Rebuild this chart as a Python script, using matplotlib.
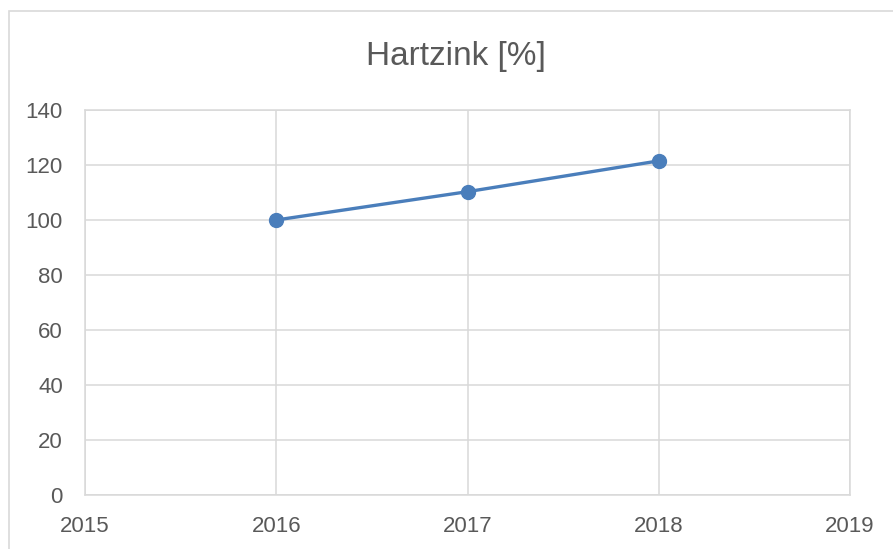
import matplotlib

matplotlib.use("Agg")
import matplotlib.pyplot as plt
from matplotlib.patches import Rectangle

# data
years = [2016, 2017, 2018]
hartzink_pct = [100, 110.3, 121.5]
x_ticks = [2015, 2016, 2017, 2018, 2019]
y_ticks = [0, 20, 40, 60, 80, 100, 120, 140]

TEXT = "#595959"
GRID = "#d9d9d9"
LINE = "#4a7ebb"

plt.rcParams["font.family"] = ["Liberation Sans", "DejaVu Sans"]

fig = plt.figure(figsize=(8.93, 5.49), dpi=100)
# chart-area border, runs off the right/bottom edge like the screenshot
fig.patches.append(
    Rectangle((9 / 893, -0.1), 1.2, 1.1 - 11 / 549, transform=fig.transFigure,
              fill=False, edgecolor=GRID, linewidth=1.2, clip_on=False)
)

ax = fig.add_axes([85 / 893, 1 - 495 / 549, 765 / 893, 385 / 549])
ax.plot(years, hartzink_pct, color=LINE, linewidth=2.4, marker="o",
        markersize=10, zorder=3)

ax.set_xlim(x_ticks[0], x_ticks[-1])
ax.set_ylim(y_ticks[0], y_ticks[-1])
ax.set_xticks(x_ticks)
ax.set_yticks(y_ticks)
ax.grid(True, color=GRID, linewidth=1.1)
ax.set_axisbelow(True)
for s in ax.spines.values():
    s.set_color(GRID)
    s.set_linewidth(1.1)
ax.tick_params(axis="both", length=0, labelsize=16, labelcolor=TEXT)
ax.tick_params(axis="x", pad=15)
ax.tick_params(axis="y", pad=16)

fig.text(456 / 893, 1 - 57 / 549, "Hartzink [%]", ha="center", va="center",
         fontsize=24, color=TEXT)

fig.savefig("out.png", dpi=100)
